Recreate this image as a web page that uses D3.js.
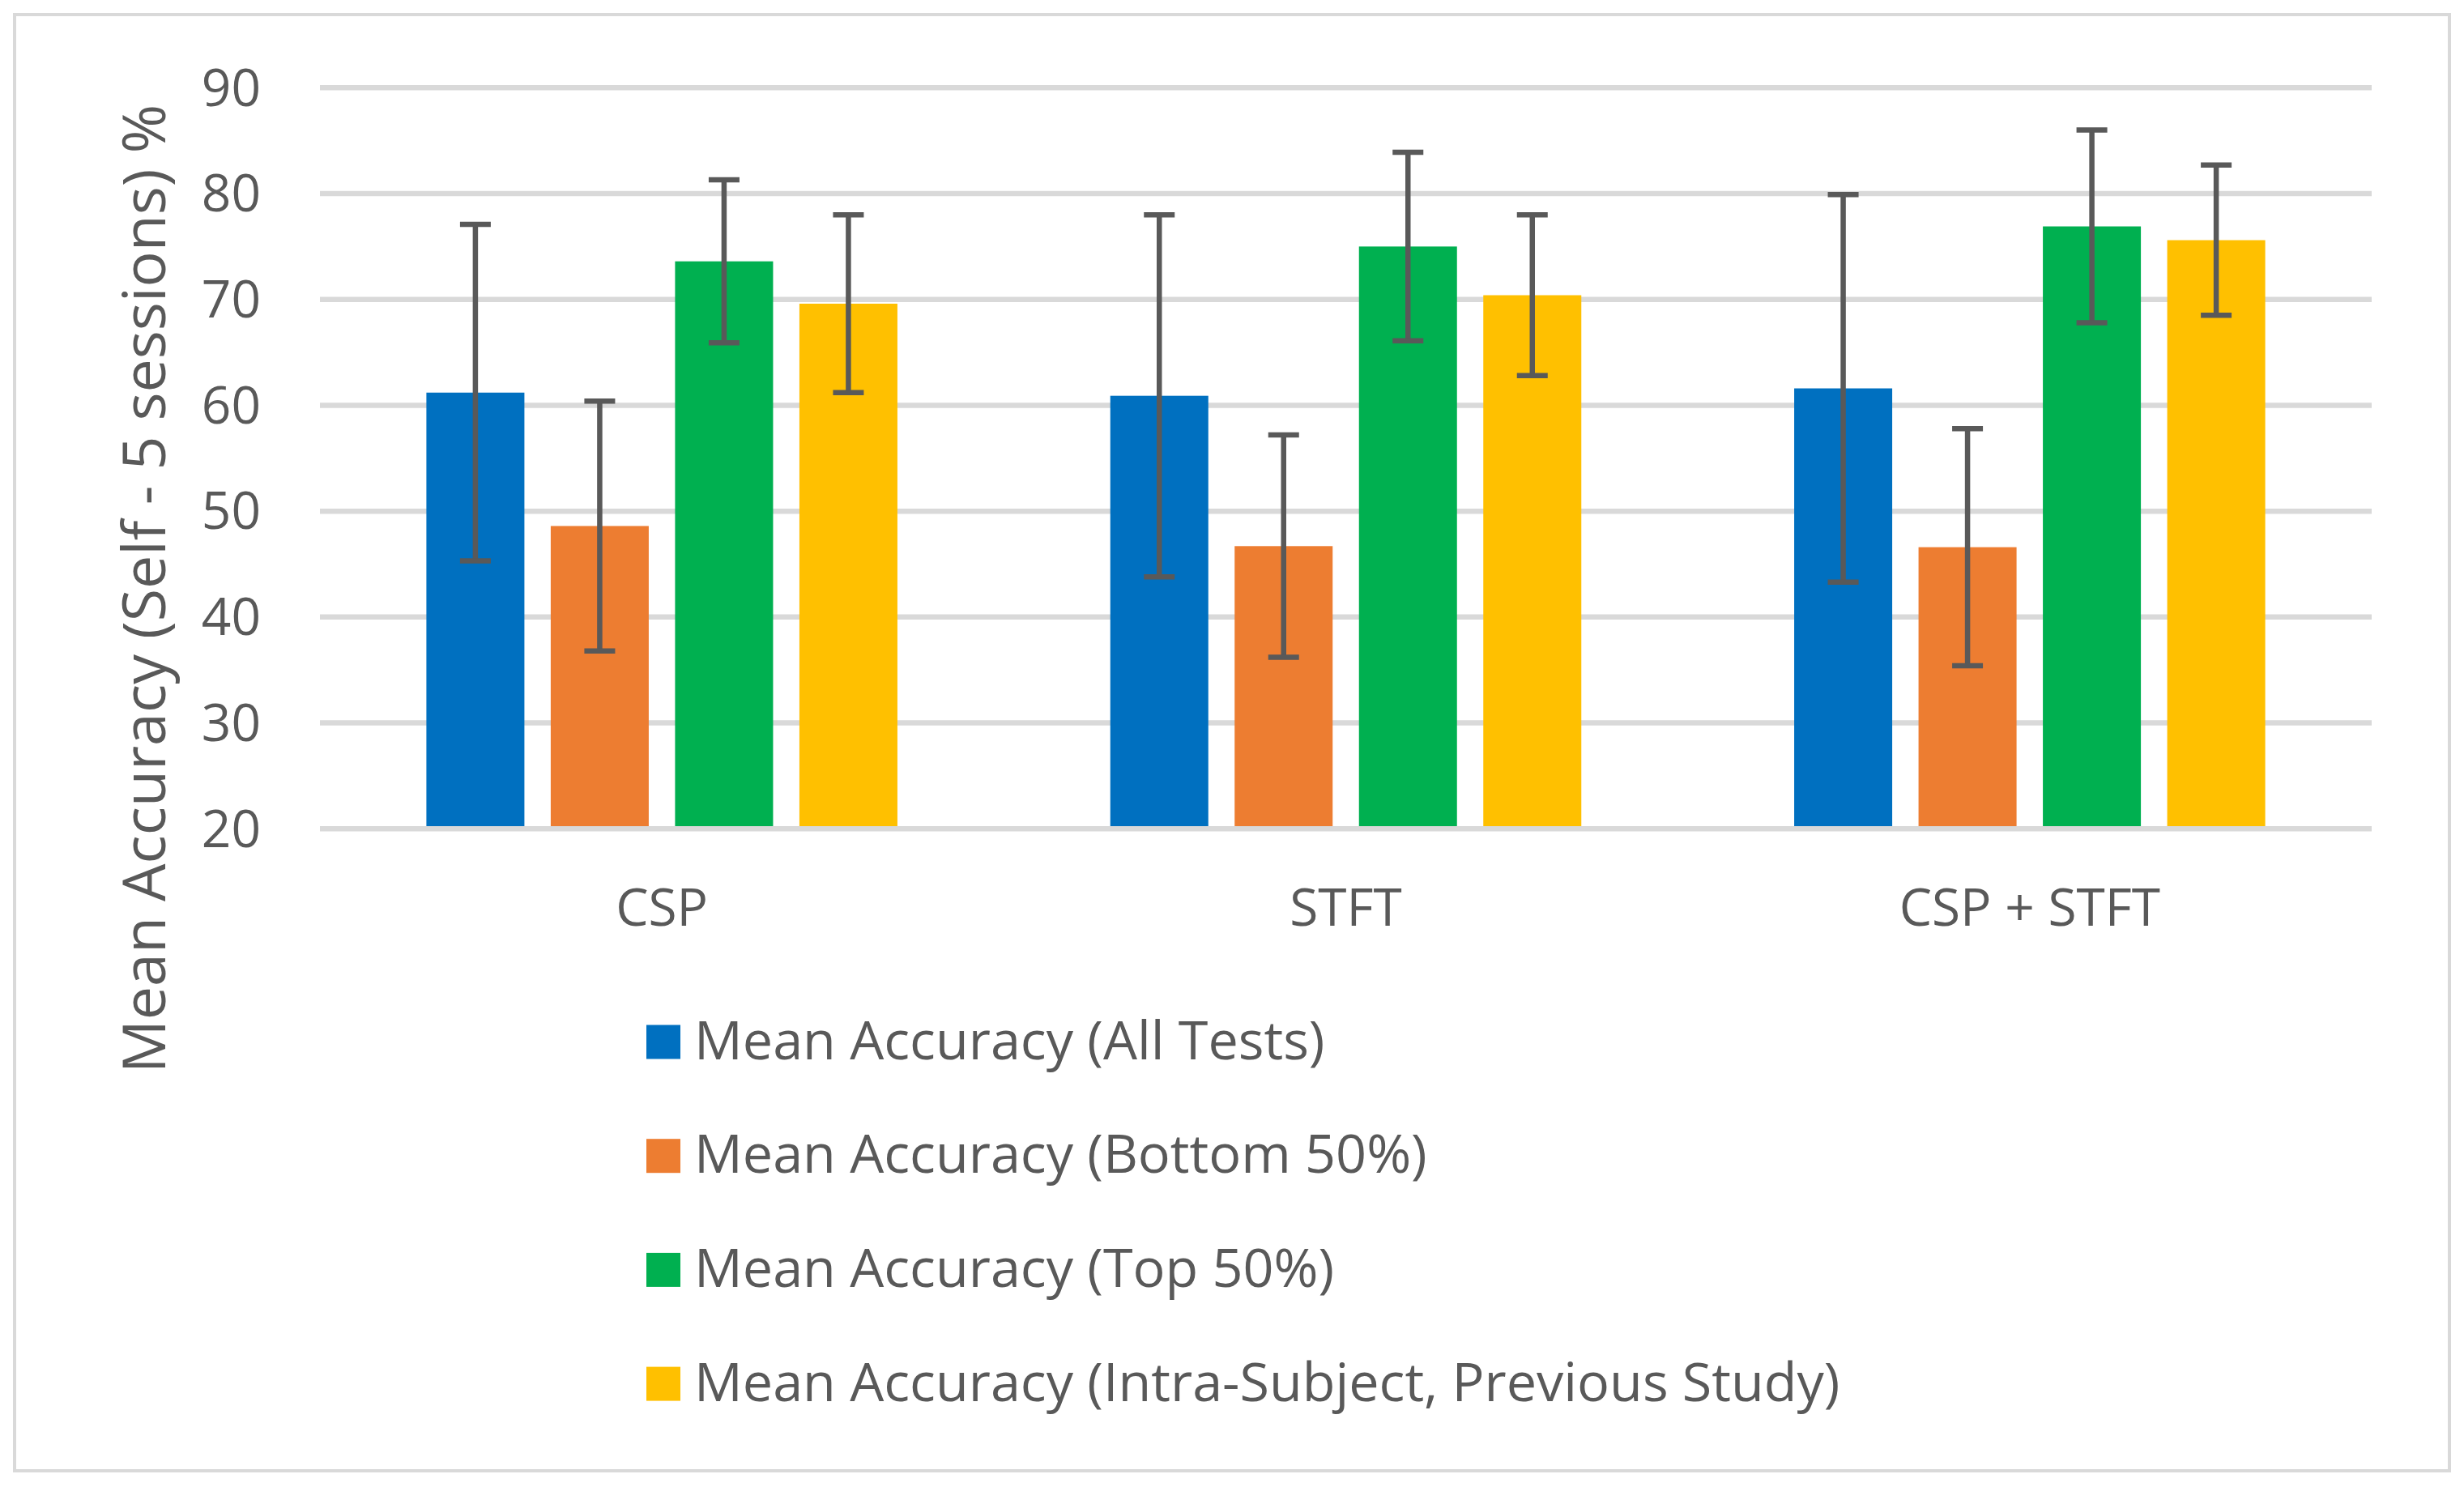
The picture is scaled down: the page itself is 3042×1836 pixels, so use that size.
<!DOCTYPE html>
<html>
<head>
<meta charset="utf-8">
<script src="https://cdn.jsdelivr.net/npm/d3@7"></script>
<style>
  html, body { margin: 0; padding: 0; background: #ffffff; }
  svg { display: block; }
  text { font-family: "Open Sans", "Noto Sans", sans-serif; fill: #595959; }
</style>
</head>
<body>
<svg id="chart" width="3042" height="1836"></svg>
<script>
// ---- data ----
const categories = ["CSP", "STFT", "CSP + STFT"];
const seriesNames = [
  "Mean Accuracy (All Tests)",
  "Mean Accuracy (Bottom 50%)",
  "Mean Accuracy (Top 50%)",
  "Mean Accuracy (Intra-Subject, Previous Study)"
];
const allTests   = [61.2, 60.9, 61.6];
const bottom50   = [48.6, 46.7, 46.6];
const top50      = [73.6, 75.0, 76.9];
const intraPrev  = [69.6, 70.4, 75.6];
const allTestsErr  = [15.9, 17.1, 18.3];
const bottom50Err  = [11.8, 10.5, 11.2];
const top50Err     = [7.7, 8.9, 9.1];
const intraPrevErr = [8.4, 7.6, 7.1];
const yTicks = [20, 30, 40, 50, 60, 70, 80, 90];
const yTitle = "Mean Accuracy (Self - 5 sessions) %";

const seriesValues = [allTests, bottom50, top50, intraPrev];
const seriesErrors = [allTestsErr, bottom50Err, top50Err, intraPrevErr];
const colors = ["#0070C0", "#ED7D31", "#00B050", "#FFC000"];

// ---- layout ----
const W = 3042, H = 1836;
const plot = { left: 395, right: 2928, top: 108.3, bottom: 1023.3 };

const svg = d3.select("#chart");

// outer border
svg.append("rect")
  .attr("x", 18).attr("y", 18)
  .attr("width", W - 36).attr("height", H - 38)
  .attr("fill", "#ffffff")
  .attr("stroke", "#D9D9D9").attr("stroke-width", 4);

const y = d3.scaleLinear().domain([20, 90]).range([plot.bottom, plot.top]);
const x0 = d3.scaleBand().domain(categories).range([plot.left, plot.right]).padding(0);
const x1 = d3.scaleBand().domain(d3.range(seriesNames.length))
  .range([0, x0.bandwidth()])
  .paddingInner(0.2117).paddingOuter(0.856);

// gridlines
svg.append("g").selectAll("line").data(yTicks).join("line")
  .attr("x1", plot.left).attr("x2", plot.right)
  .attr("y1", d => y(d)).attr("y2", d => y(d))
  .attr("stroke", "#D9D9D9").attr("stroke-width", 6.5);

// y axis labels via d3 axis
const yAxis = d3.axisLeft(y).tickValues(yTicks).tickSize(0).tickPadding(0);
const gy = svg.append("g").attr("transform", `translate(322,0)`).call(yAxis);
gy.select(".domain").remove();
gy.selectAll("text")
  .attr("font-family", '"Open Sans", "Noto Sans", sans-serif')
  .attr("font-size", 64).attr("fill", "#595959").attr("dy", "0.34em");

// bars
const rows = [];
categories.forEach((c, ci) => {
  seriesNames.forEach((s, si) => {
    rows.push({ c, si, v: seriesValues[si][ci], e: seriesErrors[si][ci] });
  });
});

svg.append("g").selectAll("rect").data(rows).join("rect")
  .attr("x", d => x0(d.c) + x1(d.si))
  .attr("width", x1.bandwidth())
  .attr("y", d => y(d.v))
  .attr("height", d => y(20) - y(d.v) - 3.25)
  .attr("fill", d => colors[d.si]);

// error bars
const eg = svg.append("g").attr("stroke", "#595959").attr("stroke-width", 6.5);
const cx = d => x0(d.c) + x1(d.si) + x1.bandwidth() / 2;
eg.selectAll("line.v").data(rows).join("line").attr("class", "v")
  .attr("x1", cx).attr("x2", cx)
  .attr("y1", d => y(d.v + d.e)).attr("y2", d => y(d.v - d.e));
eg.selectAll("line.t").data(rows).join("line").attr("class", "t")
  .attr("x1", d => cx(d) - 19).attr("x2", d => cx(d) + 19)
  .attr("y1", d => y(d.v + d.e)).attr("y2", d => y(d.v + d.e));
eg.selectAll("line.b").data(rows).join("line").attr("class", "b")
  .attr("x1", d => cx(d) - 19).attr("x2", d => cx(d) + 19)
  .attr("y1", d => y(d.v - d.e)).attr("y2", d => y(d.v - d.e));

// category labels
const xAxis = d3.axisBottom(x0).tickSize(0).tickPadding(0);
const gx = svg.append("g").attr("transform", `translate(0,1142.7)`).call(xAxis);
gx.select(".domain").remove();
gx.selectAll("text")
  .attr("font-family", '"Open Sans", "Noto Sans", sans-serif')
  .attr("font-size", 64).attr("fill", "#595959").attr("dy", 0).attr("y", 0);

// y title
svg.append("text")
  .attr("transform", `translate(204,727) rotate(-90)`)
  .attr("text-anchor", "middle")
  .attr("font-size", 73.5)
  .text(yTitle);

// legend
const lg = svg.append("g");
const legRow = 140.7;
const leg = lg.selectAll("g").data(seriesNames).join("g")
  .attr("transform", (d, i) => `translate(798,${1307.5 + i * legRow})`);
leg.append("rect").attr("x", 0).attr("y", -42).attr("width", 42).attr("height", 42)
  .attr("fill", (d, i) => colors[i]);
leg.append("text").attr("x", 59).attr("y", 0).attr("font-size", 66.5).text(d => d);
</script>
</body>
</html>
